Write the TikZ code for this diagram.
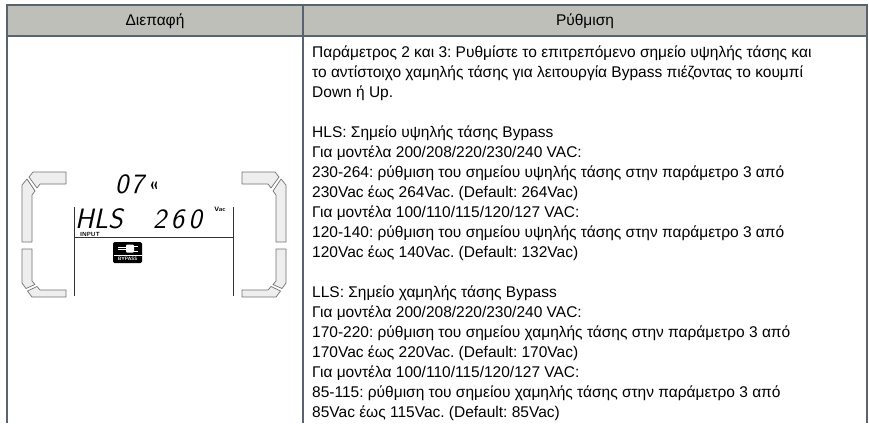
\documentclass[tikz,border=0pt]{standalone}
\usepackage{fontspec}
\setmainfont{Liberation Sans}
\usepackage{tikz}
\frenchspacing

\definecolor{headgrey}{RGB}{191,191,185}
\definecolor{rulegrey}{RGB}{90,100,112}
\definecolor{segfill}{RGB}{238,238,238}

\begin{document}
\begin{tikzpicture}[x=1pt, y=-1pt,
                    rule/.style = {draw=rulegrey, line width=1.6pt},
                    seg/.style = {draw=black!55, fill=segfill, line width=0.7pt, line join=round},
                    lcdtext/.style = {inner sep=0pt, anchor=west, font=\sffamily\itshape\fontsize{28}{28}\selectfont},
                    tiny/.style = {inner sep=0pt, font=\sffamily\bfseries\fontsize{#1}{#1}\selectfont}]
                    \useasboundingbox (0,0) rectangle (869,423);
                    \fill[white] (0,0) rectangle (869,423);

                    % table head and rules
                    \filldraw[rule, fill=headgrey] (7,5) rectangle (867,36);
                    \draw[rule] (7,5) -- (7,423) (303,5) -- (303,423) (867,5) -- (867,423);
                    \node[font=\fontsize{15.5}{18}\selectfont] (ifhead) at (155,21) {Διεπαφή};
                    \node[font=\fontsize{15.5}{18}\selectfont] (sethead) at (585,21) {Ρύθμιση};

                    % lcd frame, left half and its mirror
                    \foreach \sx/\dx in {1/0, -1/308} {
                        \begin{scope}[xshift=\dx, xscale=\sx]
                            \draw[seg] (29,177) -- (33,172) -- (66,172) -- (66,184) -- (40,184) -- (37,188) -- cycle;
                            \draw[seg] (22,242) -- (22,185) -- (27,179) -- (35,191) -- (32,195) -- (32,242) -- cycle;
                            \draw[seg] (22,249) -- (32,249) -- (32,281) -- (35,284.5) -- (26,288.5) -- (22,283) -- cycle;
                            \draw[seg] (27.5,291) -- (37,286.5) -- (40,290) -- (66,290) -- (66,297) -- (32,297) -- cycle;
                        \end{scope}
                    }
                    \draw[black!80, line width=0.8pt] (74,207) -- (74,296) (233,207) -- (233,296) (74,237) -- (233,237);

                    % lcd readout
                    \node[lcdtext] (param) at (115,184) {0\hspace{2pt}7};
                    \node[tiny=15] (arrows) at (154,186) {«};
                    \node[lcdtext] (mode) at (75,219) {HLS};
                    \node[lcdtext] (value) at (153,219) {2\hspace{4.5pt}6\hspace{4.5pt}0};
                    \node[tiny=6.5] (unit) at (220,209) {Vac};
                    \node[tiny=6] (input) at (90,234) {INPUT};

                    % bypass icon
                    \node[fill=black, rounded corners=1.5pt, minimum width=29pt, minimum height=21pt, inner sep=0pt] (bypass) at (127.5,252.5) {};
                    \draw[white, line width=0.6pt] (113.5,255.5) -- (141.5,255.5);
                    \draw[white, line width=0.9pt] (118,247.3) -- (126,247.3) (118,249.7) -- (126,249.7)
                                                   (134,246) -- (137.5,246) (134,251) -- (137.5,251);
                    \fill[white, rounded corners=1pt] (126,244.5) rectangle (134,252.5);
                    \node[tiny=4.8, text=white] (bypasslabel) at (127.5,259.3) {BYPASS};

                    % setting text
                    \node[anchor=north west, inner sep=0pt, align=left, font=\fontsize{15.5}{20}\selectfont] (setting) at (312,43) {\strut
                        Παράμετρος 2 και 3: Ρυθμίστε το επιτρεπόμενο σημείο υψηλής τάσης και\\
                        το αντίστοιχο χαμηλής τάσης για λειτουργία Bypass πιέζοντας το κουμπί\\
                        Down ή Up.\\
                        ~\\
                        HLS: Σημείο υψηλής τάσης Bypass\\
                        Για μοντέλα 200/208/220/230/240 VAC:\\
                        230-264: ρύθμιση του σημείου υψηλής τάσης στην παράμετρο 3 από\\
                        230Vac έως 264Vac. (Default: 264Vac)\\
                        Για μοντέλα 100/110/115/120/127 VAC:\\
                        120-140: ρύθμιση του σημείου υψηλής τάσης στην παράμετρο 3 από\\
                        120Vac έως 140Vac. (Default: 132Vac)\\
                        ~\\
                        LLS: Σημείο χαμηλής τάσης Bypass\\
                        Για μοντέλα 200/208/220/230/240 VAC:\\
                        170-220: ρύθμιση του σημείου χαμηλής τάσης στην παράμετρο 3 από\\
                        170Vac έως 220Vac. (Default: 170Vac)\\
                        Για μοντέλα 100/110/115/120/127 VAC:\\
                        85-115: ρύθμιση του σημείου χαμηλής τάσης στην παράμετρο 3 από\\
                        85Vac έως 115Vac. (Default: 85Vac)};
                \end{tikzpicture}
\end{document}
